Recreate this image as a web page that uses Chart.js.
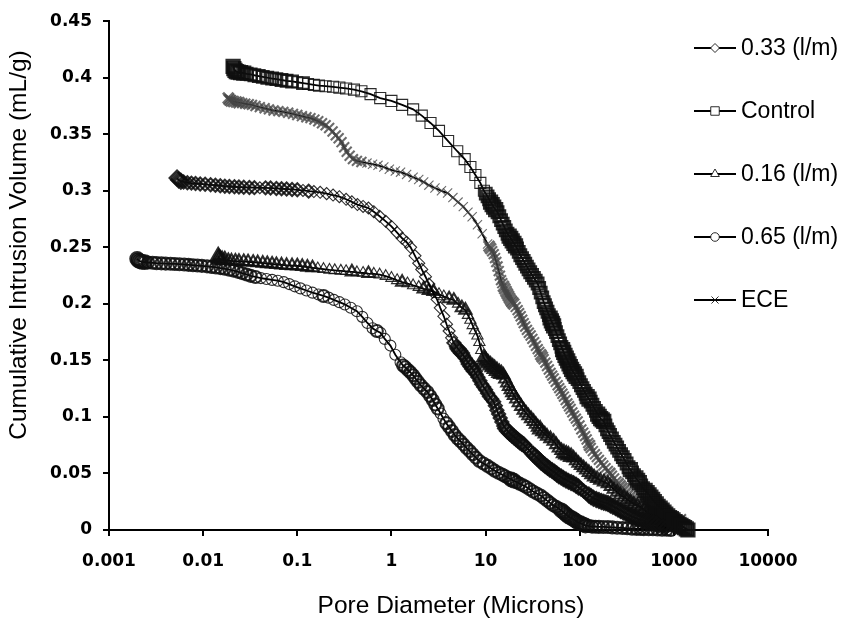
<!DOCTYPE html>
<html>
<head>
<meta charset="utf-8">
<script src="https://cdn.jsdelivr.net/npm/chart.js@4/dist/chart.umd.min.js"></script>
<style>
  html, body { margin: 0; padding: 0; background: #fff; }
  #wrap { width: 841px; height: 620px; }
</style>
</head>
<body>
<div id="wrap"><canvas id="c" width="841" height="620"></canvas></div>
<script>
// ---- data (pore diameter in microns, cumulative intrusion in mL/g) ----
const seriesLabels = ['0.33 (l/m)', 'Control', '0.16 (l/m)', '0.65 (l/m)', 'ECE'];
const xTickValues = [0.001, 0.01, 0.1, 1, 10, 100, 1000, 10000];
const xTickLabels = ['0.001', '0.01', '0.1', '1', '10', '100', '1000', '10000'];
const yTickValues = [0, 0.05, 0.1, 0.15, 0.2, 0.25, 0.3, 0.35, 0.4, 0.45];
const yTickLabels = ['0', '0.05', '0.1', '0.15', '0.2', '0.25', '0.3', '0.35', '0.4', '0.45'];
const xTitle = 'Pore Diameter (Microns)';
const yTitle = 'Cumulative Intrusion Volume (mL/g)';

const s033 = [
[0.00528,0.3113],[0.0055,0.3095],[0.0058,0.3085],[0.0062,0.3078],[0.0068,0.3072],[0.0075,0.3068],
[0.0083,0.3064],[0.0093,0.3061],[0.0105,0.3057],[0.012,0.3053],[0.0135,0.3049],[0.0152,0.3045],
[0.017,0.3041],[0.019,0.3038],[0.0215,0.3035],[0.024,0.3033],[0.027,0.3031],[0.031,0.3029],
[0.035,0.3028],[0.04,0.3027],[0.046,0.3026],[0.052,0.3024],[0.06,0.3021],[0.068,0.3018],
[0.077,0.3015],[0.088,0.3012],[0.1,0.3009],[0.115,0.3003],[0.132,0.2997],[0.15,0.2993],
[0.175,0.2987],[0.205,0.2975],[0.24,0.2962],[0.28,0.2948],[0.33,0.2925],[0.38,0.2902],
[0.435,0.2878],[0.5,0.2862],[0.57,0.2848],[0.65,0.2815],[0.75,0.2775],[0.87,0.273],
[1.0,0.2685],[1.15,0.263],[1.3,0.258],[1.45,0.2545],[1.6,0.25],[1.78,0.2425],[1.95,0.236],
[2.1,0.2305],[2.3,0.224],[2.5,0.2175],[2.75,0.2105],[3.05,0.204],[3.3,0.1965],[3.6,0.189],
[3.85,0.182],[4.1,0.176],[4.35,0.17],
[4.6,0.1655],[4.9,0.162],[5.1,0.1603],[5.3,0.1585],[5.55,0.1565],[5.8,0.1545],[6.1,0.1518],
[6.4,0.149],[6.7,0.1468],[7.0,0.1445],[7.3,0.1425],[7.6,0.1405],[7.95,0.1378],[8.3,0.135],
[8.7,0.132],[9.1,0.129],[9.55,0.1265],[10,0.124],[10.5,0.121],[11,0.118],[11.6,0.1158],
[12.2,0.1135],[12.7,0.1098],[13.2,0.106],[13.75,0.1025],[14.3,0.099],[14.9,0.0955],[15.6,0.092],
[16.3,0.0898],[17.1,0.0875],[18,0.0858],[19,0.084],[20,0.0825],[21,0.081],[22,0.0795],[23,0.078],
[24.2,0.0768],[25.4,0.0755],[26.9,0.0733],[28.5,0.071],[30.2,0.069],[32,0.067],[33.7,0.0653],
[35.5,0.0635],[37.2,0.0618],[39,0.06],[41,0.0585],[43,0.057],[45.5,0.0555],[48,0.054],
[51,0.0525],[54,0.051],[57,0.0495],[60,0.048],[63.5,0.0468],[67,0.0455],[71.5,0.0443],
[76,0.043],[81,0.042],[86,0.041],[91.5,0.0395],[97,0.038],[103,0.0363],[110,0.0345],
[117,0.0328],[125,0.031],[132,0.0295],[140,0.028],[150,0.027],[160,0.026],[170,0.0252],
[180,0.0245],[190,0.024],[200,0.0235],[212,0.0222],[225,0.021],[240,0.0198],[255,0.0185],
[272,0.0173],[290,0.016],[310,0.0148],[330,0.0135],[352,0.0124],[375,0.0113],[398,0.0104],
[420,0.0095],[450,0.0088],[480,0.008],[510,0.0075],[540,0.007],[575,0.0065],[610,0.006],
[655,0.005],[700,0.004],[760,0.003],[820,0.002]
];

const sControl = [
[0.0208,0.41],[0.0212,0.408],[0.0218,0.4065],[0.0225,0.4055],[0.0235,0.405],[0.025,0.4045],
[0.027,0.404],[0.029,0.4035],[0.032,0.403],[0.035,0.4022],[0.039,0.4015],[0.043,0.4008],
[0.048,0.4],[0.054,0.3993],[0.06,0.3987],[0.068,0.398],[0.077,0.3973],[0.088,0.3967],
[0.1,0.396],[0.115,0.3953],[0.13,0.3945],[0.15,0.3937],[0.17,0.393],[0.2,0.3925],
[0.24,0.392],[0.28,0.3913],[0.33,0.3905],[0.4,0.3895],[0.48,0.388],[0.6,0.3855],
[0.76,0.382],[1.0,0.3795],[1.3,0.376],[1.7,0.372],[2.1,0.3665],[2.6,0.36],[3.2,0.353],
[4.0,0.344],[5.0,0.335],[6.0,0.328],[6.9,0.321],[7.8,0.314],[8.8,0.307],
[9.6,0.3],[10.05,0.2975],[10.5,0.295],[10.9,0.2925],[11.3,0.29],[11.75,0.2878],[12.2,0.2855],
[12.8,0.2833],[13.4,0.281],[14,0.2775],[14.6,0.274],[15.2,0.271],[15.8,0.268],[16.4,0.265],
[17.1,0.262],[17.8,0.26],[18.5,0.258],[19.2,0.2558],[20,0.2535],[20.8,0.2513],[21.6,0.249],
[22.5,0.246],[23.4,0.243],[24.4,0.2405],[25.4,0.238],[26.4,0.2355],[27.5,0.233],[28.6,0.2305],
[29.8,0.228],[31.2,0.2255],[32.6,0.223],[34.1,0.2205],[35.7,0.218],[37.1,0.214],[38.5,0.21],
[40,0.2058],[41.4,0.2015],[42.7,0.1988],[44,0.196],[45.5,0.193],[47,0.19],[48.5,0.1875],
[50,0.185],[51.4,0.1828],[52.8,0.1805],[54.4,0.1778],[56,0.175],[58,0.1715],[60,0.168],
[62,0.165],[64,0.162],[65.8,0.1595],[67.6,0.157],[69.8,0.1545],[72,0.152],[74.5,0.1495],
[77,0.147],[79.5,0.1445],[82,0.142],[85,0.14],[88,0.138],[91.5,0.1358],[95,0.1335],
[99,0.1308],[103,0.128],[107,0.1255],[111,0.123],[115.5,0.1205],[120,0.118],[125.5,0.1158],
[131,0.1135],[136.5,0.1108],[142,0.108],[148.5,0.1053],[155,0.1025],[161,0.1005],[167,0.0985],
[173.5,0.0973],[180,0.096],[187.5,0.0925],[195,0.089],[202.5,0.0865],[210,0.084],[220,0.081],
[230,0.078],[240,0.0755],[250,0.073],[262,0.07],[275,0.067],[287,0.0645],[300,0.062],
[315,0.0588],[330,0.0555],[345,0.0533],[360,0.051],[377,0.0485],[395,0.046],[412,0.044],
[430,0.042],[450,0.0395],[470,0.037],[495,0.035],[520,0.033],[545,0.031],[570,0.029],
[595,0.027],[620,0.025],[650,0.023],[680,0.021],[715,0.0193],[750,0.0175],[785,0.0158],
[820,0.014],[860,0.0125],[900,0.011],[940,0.01],[980,0.009],[1030,0.0075],[1080,0.006],
[1135,0.005],[1190,0.004],[1245,0.003],[1300,0.002],[1355,0.001],[1410,0.0]
];

const s016 = [
[0.01445,0.2424],[0.0147,0.2405],[0.0152,0.2395],[0.0159,0.239],[0.017,0.2387],[0.0185,0.2383],
[0.02,0.238],[0.022,0.2378],[0.024,0.2376],[0.027,0.2374],[0.03,0.2372],[0.034,0.2368],
[0.038,0.2364],[0.043,0.236],[0.048,0.2356],[0.054,0.2352],[0.06,0.2348],[0.068,0.2344],
[0.077,0.234],[0.088,0.2338],[0.1,0.2336],[0.113,0.2331],[0.128,0.2325],[0.145,0.2319],
[0.165,0.2313],[0.19,0.2307],[0.22,0.23],[0.25,0.2296],[0.29,0.2292],[0.33,0.2288],
[0.38,0.2283],[0.43,0.2278],[0.5,0.2273],[0.57,0.2268],[0.65,0.2265],[0.75,0.2258],
[0.87,0.2245],[1.0,0.2228],[1.15,0.2208],[1.3,0.2192],[1.48,0.218],[1.7,0.2163],
[1.95,0.2148],[2.2,0.2133],[2.5,0.2118],[2.8,0.211],[3.2,0.2085],[3.6,0.2065],[4.1,0.2045],
[4.6,0.2032],[5.1,0.2],[5.6,0.1965],[6.1,0.1945],[6.5,0.19],[6.9,0.1857],[7.3,0.181],
[7.7,0.1765],[8.2,0.1718],[8.6,0.166],[9.0,0.159],
[9.5,0.1526],[9.85,0.1508],[10.2,0.149],[10.7,0.1473],[11.3,0.1456],[11.9,0.144],[12.5,0.1425],
[13.2,0.1408],[14,0.139],[14.7,0.138],[15.5,0.1369],[16.2,0.1335],[17,0.13],[17.7,0.127],
[18.5,0.124],[19.2,0.1215],[20,0.119],[21.2,0.1158],[22.5,0.1125],[23.9,0.1093],[25.4,0.106],
[26.9,0.1035],[28.5,0.101],[30.4,0.0985],[32.4,0.096],[34.2,0.0935],[36,0.091],[38,0.089],
[40,0.087],[42.5,0.085],[45,0.083],[48.8,0.0808],[52.8,0.0785],[56.3,0.0755],[60,0.0725],
[64,0.0703],[68,0.068],[72,0.067],[76,0.066],[81,0.0648],[86,0.0637],[91.5,0.0613],[97,0.059],
[103,0.057],[110,0.055],[117,0.053],[125,0.051],[133,0.049],[142,0.047],[153,0.0455],
[165,0.044],[181,0.0425],[199,0.041],[214,0.0385],[230,0.036],[250,0.0335],[270,0.031],
[295,0.029],[320,0.027],[347,0.025],[375,0.023],[410,0.0215],[446,0.0201],[483,0.018],
[520,0.016],[560,0.0145],[600,0.013],[638,0.012],[676,0.0113],[718,0.009],[760,0.007],
[805,0.0055],[850,0.004],[890,0.0033],[929,0.0026]
];

const s065 = [
[0.00199,0.2398],[0.00205,0.2385],[0.00213,0.2377],[0.00224,0.2372],[0.0024,0.2369],[0.0026,0.2366],
[0.0029,0.2363],[0.0032,0.236],[0.0036,0.2358],[0.004,0.2356],[0.0045,0.2355],[0.005,0.2353],
[0.0056,0.2351],[0.0063,0.2348],[0.007,0.2345],[0.0078,0.2342],[0.0087,0.2339],[0.0097,0.2336],
[0.011,0.2332],[0.0123,0.2327],[0.0137,0.2322],[0.0153,0.2316],[0.017,0.231],[0.019,0.2302],
[0.021,0.2294],[0.0235,0.2283],[0.026,0.2272],[0.029,0.226],[0.032,0.2248],[0.036,0.2238],
[0.041,0.2228],[0.047,0.222],[0.054,0.2212],[0.062,0.2205],[0.072,0.2192],[0.082,0.2175],
[0.094,0.2155],[0.108,0.2137],[0.125,0.2118],[0.145,0.2099],[0.168,0.2083],[0.19,0.207],
[0.215,0.2055],[0.245,0.2035],[0.28,0.2015],[0.32,0.1995],[0.37,0.1965],[0.43,0.1935],
[0.49,0.1885],[0.556,0.1831],[0.63,0.1785],[0.7,0.176],[0.764,0.1744],[0.85,0.169],
[0.975,0.1631],[1.1,0.155],
[1.25,0.1483],[1.33,0.1455],[1.4,0.144],[1.5,0.1415],[1.59,0.1395],[1.7,0.1368],[1.8,0.134],
[1.92,0.131],[2.05,0.128],[2.22,0.125],[2.41,0.1221],[2.58,0.1185],[2.75,0.115],[2.92,0.111],
[3.1,0.1075],[3.33,0.103],[3.57,0.0985],[3.83,0.0945],[4.1,0.091],[4.4,0.0875],[4.7,0.084],
[5.05,0.081],[5.42,0.0785],[5.85,0.0755],[6.3,0.0725],[6.8,0.0698],[7.3,0.067],[7.9,0.064],
[8.6,0.061],[9.5,0.0588],[10.5,0.0567],[11.5,0.0545],[12.5,0.0525],[13.7,0.0507],[15,0.049],
[16.2,0.0475],[17.5,0.046],[18.7,0.0448],[19.9,0.0436],[21.4,0.0423],[23,0.041],[25,0.0395],
[27,0.038],[29.4,0.036],[32,0.034],[35,0.0323],[38.4,0.0305],[41.6,0.0283],[45,0.026],
[48.4,0.024],[52,0.022],[56,0.0205],[60,0.019],[63.8,0.0173],[67.6,0.0157],[71.7,0.0138],
[76,0.012],[81,0.0107],[86,0.0095],[90.5,0.0082],[95,0.007],[102,0.006],[108,0.005],
[115,0.004],[125,0.0035],[135,0.003],[147,0.0029],[160,0.0028],[178,0.0027],[199,0.0026],
[222,0.0023],[250,0.002],[285,0.0018],[320,0.0015],[360,0.0012],[400,0.001],[440,0.0009],
[480,0.0008],[540,0.0007],[600,0.0006],[670,0.0005],[750,0.0003],[840,0.0002],[929,0.0]
];

const sECE = [
[0.0185,0.382],[0.019,0.3805],[0.0198,0.3795],[0.021,0.379],[0.0225,0.3785],[0.024,0.378],
[0.026,0.3775],[0.028,0.377],[0.0305,0.3765],[0.033,0.376],[0.036,0.375],[0.04,0.374],
[0.045,0.373],[0.05,0.372],[0.056,0.371],[0.063,0.3705],[0.071,0.3698],[0.08,0.369],
[0.09,0.368],[0.1,0.367],[0.112,0.366],[0.125,0.365],[0.138,0.3643],[0.152,0.363],
[0.167,0.3615],[0.183,0.3598],[0.2,0.358],[0.218,0.3555],[0.237,0.3525],[0.256,0.349],
[0.275,0.3465],[0.295,0.343],[0.315,0.3385],[0.335,0.3345],[0.36,0.331],[0.39,0.328],
[0.43,0.3265],[0.48,0.3255],[0.55,0.3245],[0.63,0.3235],[0.72,0.3225],[0.83,0.321],
[0.95,0.319],[1.1,0.3175],[1.25,0.3165],[1.45,0.3145],[1.7,0.312],[1.95,0.31],[2.2,0.3078],
[2.5,0.305],[2.9,0.3025],[3.4,0.3],[3.95,0.298],[4.5,0.294],[5.1,0.29],[5.8,0.286],
[6.5,0.281],[7.2,0.277],[8.2,0.27],[9.2,0.262],
[10.5,0.253],[10.9,0.251],[11.3,0.249],[11.75,0.2465],[12.2,0.244],[12.6,0.2405],[13.0,0.237],
[13.4,0.233],[13.8,0.229],[14.2,0.225],[14.6,0.221],[15.05,0.2183],[15.5,0.2155],[16,0.2133],
[16.5,0.211],[17,0.209],[17.5,0.207],[18,0.205],[18.6,0.203],[19.2,0.2015],[19.9,0.2],
[20.9,0.1973],[21.9,0.1945],[22.7,0.1918],[23.6,0.189],[24.5,0.186],[25.4,0.183],[26.4,0.18],
[27.5,0.177],[28.8,0.1745],[30.1,0.172],[31.4,0.169],[32.8,0.166],[34.3,0.163],[35.8,0.16],
[37.2,0.1575],[38.6,0.155],[40,0.153],[41.4,0.151],[43.2,0.148],[45,0.145],[47,0.142],
[49,0.139],[51,0.1365],[53,0.134],[55.6,0.131],[58.3,0.128],[60.6,0.1255],[63,0.123],
[65.5,0.1205],[68,0.118],[71,0.115],[74,0.112],[77,0.1095],[80,0.107],[83.5,0.104],
[87,0.101],[91,0.0985],[95,0.096],[99.5,0.0925],[104,0.089],[109,0.086],[114,0.083],
[118.5,0.08],[123,0.077],[127,0.0748],[131,0.0725],[138,0.0698],[145,0.067],[152,0.0645],
[160,0.062],[169,0.0595],[178,0.057],[188,0.0547],[199,0.0523],[209,0.0502],[220,0.048],
[232,0.0455],[245,0.043],[257,0.041],[270,0.039],[282,0.037],[294,0.035],[310,0.033],
[325,0.031],[342,0.029],[360,0.027],[380,0.0255],[400,0.024],[423,0.022],[446,0.02],
[473,0.0185],[500,0.017],[530,0.0158],[560,0.0145],[590,0.0135],[620,0.0125],[648,0.0119],
[676,0.0113],[712,0.0107],[750,0.01],[800,0.0097],[850,0.0095],[920,0.009],[1000,0.0087],
[1090,0.009],[1190,0.0095]
];

const seriesData = [s033, sControl, s016, s065, sECE];
const pointStyles = ['rectRot', 'rect', 'triangle', 'circle', 'crossRot'];
const pointRadii = [6, 7.8, 6.5, 5.5, 6.5];
const legendRadii = [4.5, 6, 5, 4.3, 5];
const markerColors = ['rgba(15,15,15,0.88)', 'rgba(15,15,15,0.88)', 'rgba(15,15,15,0.88)',
                      'rgba(15,15,15,0.88)', 'rgba(70,70,70,0.8)'];

// screen spacing between neighbouring measured points, used to mimic the dense, overlapping marker bands
function crowdedness(ctx) {
  const chart = ctx.chart, ds = chart.data.datasets[ctx.datasetIndex];
  const sx = chart.scales.x, sy = chart.scales.y;
  if (!sx || !sy || !ds) return 99;
  const d = ds.data, i = ctx.dataIndex;
  const px = k => [sx.getPixelForValue(d[k].x), sy.getPixelForValue(d[k].y)];
  const p = px(i);
  let sum = 0, n = 0;
  [i - 1, i + 1].forEach(k => {
    if (k >= 0 && k < d.length) {
      const q = px(k);
      sum += Math.hypot(q[0] - p[0], q[1] - p[1]); n++;
    }
  });
  return n ? sum / n : 99;
}

const datasets = seriesData.map((arr, i) => ({
  label: seriesLabels[i],
  data: arr.map(p => ({ x: p[0], y: p[1] })),
  showLine: true,
  borderColor: '#000',
  borderWidth: 1.8,
  tension: 0,
  pointStyle: pointStyles[i],
  pointRadius: ctx => pointRadii[i] + (crowdedness(ctx) < 3.2 ? 1 : (crowdedness(ctx) < 5.5 ? 0.5 : 0)),
  pointBorderColor: markerColors[i],
  pointBackgroundColor: 'rgba(255,255,255,0)',
  pointBorderWidth: ctx => {
    const c = crowdedness(ctx);
    return c < 3.2 ? 2.8 : (c < 5.5 ? 2.1 : 1.1);
  },
  clip: false
}));

function drawMarker(ctx, style, r, x, y, color) {
  ctx.save();
  ctx.strokeStyle = color;
  ctx.fillStyle = '#fff';
  ctx.lineWidth = 1;
  ctx.beginPath();
  if (style === 'rectRot') {
    ctx.moveTo(x, y - r); ctx.lineTo(x + r, y); ctx.lineTo(x, y + r); ctx.lineTo(x - r, y); ctx.closePath();
    ctx.fill(); ctx.stroke();
  } else if (style === 'rect') {
    const s = r * Math.SQRT1_2;
    ctx.rect(x - s, y - s, 2 * s, 2 * s); ctx.fill(); ctx.stroke();
  } else if (style === 'triangle') {
    ctx.moveTo(x, y - r);
    ctx.lineTo(x + r * Math.sin(Math.PI / 3), y + r / 2);
    ctx.lineTo(x - r * Math.sin(Math.PI / 3), y + r / 2);
    ctx.closePath(); ctx.fill(); ctx.stroke();
  } else if (style === 'circle') {
    ctx.arc(x, y, r, 0, Math.PI * 2); ctx.fill(); ctx.stroke();
  } else if (style === 'crossRot') {
    const d = r * Math.SQRT1_2;
    ctx.moveTo(x - d, y - d); ctx.lineTo(x + d, y + d);
    ctx.moveTo(x + d, y - d); ctx.lineTo(x - d, y + d);
    ctx.stroke();
  }
  ctx.restore();
}

const decorPlugin = {
  id: 'decor',
  afterDraw(chart) {
    const ctx = chart.ctx;
    ctx.save();
    ctx.fillStyle = '#000';
    // axis titles
    ctx.font = '24.5px "Liberation Sans", Arial, sans-serif';
    ctx.textAlign = 'center';
    ctx.textBaseline = 'alphabetic';
    ctx.fillText(xTitle, 451, 613);
    ctx.save();
    ctx.translate(26, 245);
    ctx.rotate(-Math.PI / 2);
    ctx.fillText(yTitle, 0, 0);
    ctx.restore();
    // legend
    chart.data.datasets.forEach((ds, i) => {
      const y = 48 + i * 63;
      ctx.strokeStyle = '#000';
      ctx.lineWidth = 1.8;
      ctx.beginPath();
      ctx.moveTo(694, y); ctx.lineTo(736, y);
      ctx.stroke();
      drawMarker(ctx, pointStyles[i], legendRadii[i], 715, y, 'rgba(15,15,15,0.88)');
      ctx.fillStyle = '#000';
      ctx.font = '23px "Liberation Sans", Arial, sans-serif';
      ctx.textAlign = 'left';
      ctx.textBaseline = 'middle';
      ctx.fillText(ds.label, 741, y + 1);
    });
    ctx.restore();
  }
};

const tickFont = { family: '"DejaVu Sans", sans-serif', weight: 'bold', size: 17 };

new Chart(document.getElementById('c'), {
  type: 'scatter',
  data: { datasets },
  options: {
    responsive: false,
    animation: false,
    devicePixelRatio: 1,
    layout: { padding: { top: 14, right: 73, left: 0, bottom: 0 } },
    plugins: { legend: { display: false }, tooltip: { enabled: false } },
    scales: {
      x: {
        type: 'logarithmic',
        min: 0.001,
        max: 10000,
        afterBuildTicks: s => { s.ticks = xTickValues.map(v => ({ value: v })); },
        afterFit: s => { s.height = 90; },
        ticks: {
          autoSkip: false,
          maxRotation: 0,
          padding: 15,
          color: '#000',
          font: tickFont,
          callback: (v, i) => xTickLabels[i]
        },
        grid: { drawOnChartArea: false, drawTicks: true, tickLength: 6, color: '#000', lineWidth: 2 },
        border: { display: true, color: '#000', width: 2 }
      },
      y: {
        type: 'linear',
        min: 0,
        max: 0.45,
        afterBuildTicks: s => { s.ticks = yTickValues.map(v => ({ value: v })); },
        afterFit: s => { s.width = 109; },
        ticks: {
          autoSkip: false,
          padding: 11,
          color: '#000',
          font: tickFont,
          callback: (v, i) => yTickLabels[i]
        },
        grid: { drawOnChartArea: false, drawTicks: true, tickLength: 6, color: '#000', lineWidth: 2 },
        border: { display: true, color: '#000', width: 2 }
      }
    }
  },
  plugins: [decorPlugin]
});
</script>
</body>
</html>
